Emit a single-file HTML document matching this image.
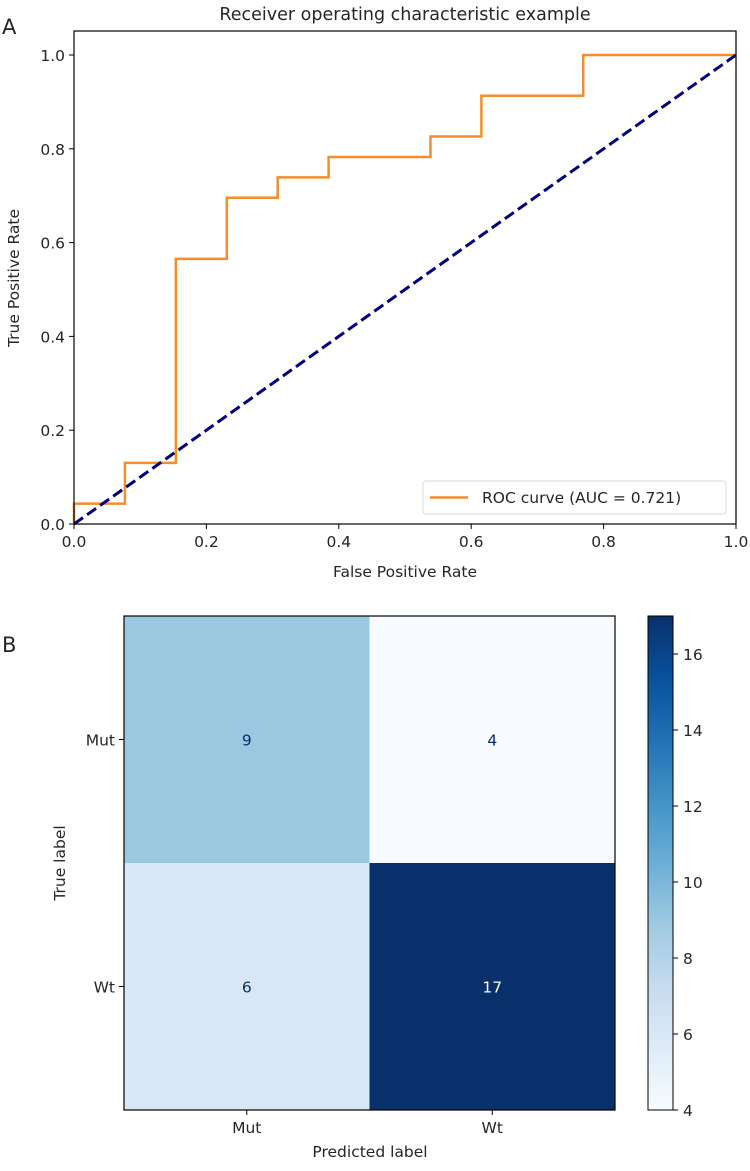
<!DOCTYPE html>
<html><head><meta charset="utf-8"><style>
body{margin:0;background:#fff}
svg text{font-family:"DejaVu Sans","Liberation Sans",sans-serif;fill:#262626}
</style></head><body>
<svg width="750" height="1166" viewBox="0 0 750 1166" xmlns="http://www.w3.org/2000/svg">
<g id="roc"></g>
<g id="cm"></g>
</svg>
<script>
// ROC data
const rocFpr = [0, 0, 0.0769, 0.0769, 0.1538, 0.1538, 0.2308, 0.2308, 0.3077, 0.3077, 0.3846, 0.3846, 0.5385, 0.5385, 0.6154, 0.6154, 0.7692, 0.7692, 1.0];
const rocTpr = [0, 0.0435, 0.0435, 0.1304, 0.1304, 0.5652, 0.5652, 0.6957, 0.6957, 0.7391, 0.7391, 0.7826, 0.7826, 0.8261, 0.8261, 0.9130, 0.9130, 1.0, 1.0];
const diagX = [0, 1];
const diagY = [0, 1];
const rocTicks = [0.0, 0.2, 0.4, 0.6, 0.8, 1.0];
const aucLabel = "ROC curve (AUC = 0.721)";
// Confusion matrix data
const classLabels = ["Mut", "Wt"];
const cmValues = [[9, 4], [6, 17]];
const cbarTicks = [4, 6, 8, 10, 12, 14, 16];

const NS = "http://www.w3.org/2000/svg";
function mk(parent, tag, attrs, text) {
  const e = document.createElementNS(NS, tag);
  for (const k in attrs) e.setAttribute(k, attrs[k]);
  if (text !== undefined) e.textContent = text;
  parent.appendChild(e);
  return e;
}
const FS = 15.5;
// ROC axes
const X0 = 74, X1 = 736, YB = 524, YT = 31;
const xs = v => X0 + v * (X1 - X0);
const ys = v => YB - v * (YB - 55) / 1.0;
const roc = document.getElementById('roc');

let t = mk(roc, 'text', {x: 405, y: 20, 'text-anchor': 'middle', 'font-size': 17.5}, "Receiver operating characteristic example");


t = mk(roc, 'text', {x: 2, y: 34, 'font-size': 21}, "A");



rocTicks.forEach(v => {
  let g = mk(roc, 'g', {});
  
  
  mk(g, 'line', {x1: xs(v), x2: xs(v), y1: YB, y2: YB + 5, stroke: '#000', 'stroke-width': 1});
  mk(g, 'text', {x: xs(v), y: YB + 23, 'text-anchor': 'middle', 'font-size': FS}, v.toFixed(1));
  let g2 = mk(roc, 'g', {});
  
  
  mk(g2, 'line', {x1: X0 - 5, x2: X0, y1: ys(v), y2: ys(v), stroke: '#000', 'stroke-width': 1});
  mk(g2, 'text', {x: X0 - 9, y: ys(v) + 6, 'text-anchor': 'end', 'font-size': FS}, v.toFixed(1));
});
t = mk(roc, 'text', {x: 405, y: 577, 'text-anchor': 'middle', 'font-size': FS}, "False Positive Rate");


t = mk(roc, 'text', {x: 0, y: 0, 'text-anchor': 'middle', 'font-size': FS, transform: 'translate(19,278) rotate(-90)'}, "True Positive Rate");



let p = mk(roc, 'polyline', {points: rocFpr.map((v, i) => xs(v) + ',' + ys(rocTpr[i])).join(' '), fill: 'none', stroke: '#f28e2b', 'stroke-width': 2.5});


p = mk(roc, 'line', {x1: xs(diagX[0]), y1: ys(diagY[0]), x2: xs(diagX[1]), y2: ys(diagY[1]), stroke: '#000080', 'stroke-width': 3, 'stroke-dasharray': '11,5'});


p = mk(roc, 'rect', {x: X0, y: YT, width: X1 - X0, height: YB - YT, fill: 'none', stroke: '#000', 'stroke-width': 1.2});



let lg = mk(roc, 'g', {});


mk(lg, 'rect', {x: 423, y: 481, width: 303, height: 33, rx: 3, fill: '#fff', 'fill-opacity': 0.85, stroke: '#d8d8d8'});
mk(lg, 'line', {x1: 430, x2: 468, y1: 497.5, y2: 497.5, stroke: '#f28e2b', 'stroke-width': 2.5});
mk(lg, 'text', {x: 482, y: 503, 'font-size': FS}, aucLabel);

// Confusion matrix
const cm = document.getElementById('cm');
const CL = 124, CT = 616, CR = 615, CB = 1110;
const n = classLabels.length;
const cw = (CR - CL) / n, ch = (CB - CT) / n;
const vmin = 4, vmax = 17;
const blues = [[247,251,255],[222,235,247],[198,219,239],[158,202,225],[107,174,214],[66,146,198],[33,113,181],[8,81,156],[8,48,107]];
function blue(v) {
  let f = Math.max(0, Math.min(1, (v - vmin) / (vmax - vmin))) * (blues.length - 1);
  let i = Math.min(Math.floor(f), blues.length - 2), r = f - i;
  const c = blues[i].map((a, k) => Math.round(a + (blues[i + 1][k] - a) * r));
  return 'rgb(' + c.join(',') + ')';
}
t = mk(cm, 'text', {x: 2, y: 652, 'font-size': 21}, "B");


cmValues.forEach((row, r) => row.forEach((v, c) => {
  let g = mk(cm, 'g', {});
  
  
  mk(g, 'rect', {x: CL + c * cw, y: CT + r * ch, width: cw, height: ch, fill: blue(v)});
  mk(g, 'text', {x: CL + (c + 0.5) * cw, y: CT + (r + 0.5) * ch + 6, 'text-anchor': 'middle', 'font-size': FS, style: 'fill:' + ((v - vmin) / (vmax - vmin) > 0.5 ? '#f7fbff' : '#08306b')}, String(v));
}));
p = mk(cm, 'rect', {x: CL, y: CT, width: CR - CL, height: CB - CT, fill: 'none', stroke: '#000', 'stroke-width': 1.2});


classLabels.forEach((lab, i) => {
  let g = mk(cm, 'g', {});
  
  
  const cx = CL + (i + 0.5) * cw;
  mk(g, 'line', {x1: cx, x2: cx, y1: CB, y2: CB + 5, stroke: '#000'});
  mk(g, 'text', {x: cx, y: CB + 23, 'text-anchor': 'middle', 'font-size': FS}, lab);
  let g2 = mk(cm, 'g', {});
  
  
  const cy = CT + (i + 0.5) * ch;
  mk(g2, 'line', {x1: CL - 5, x2: CL, y1: cy, y2: cy, stroke: '#000'});
  mk(g2, 'text', {x: CL - 9, y: cy + 6, 'text-anchor': 'end', 'font-size': FS}, lab);
});
t = mk(cm, 'text', {x: 370, y: 1157, 'text-anchor': 'middle', 'font-size': FS}, "Predicted label");


t = mk(cm, 'text', {x: 0, y: 0, 'text-anchor': 'middle', 'font-size': FS, transform: 'translate(65,863) rotate(-90)'}, "True label");



// colorbar
const BX = 648, BW = 25;
const defs = mk(cm, 'defs', {});
const grad = mk(defs, 'linearGradient', {id: 'cbg', x1: 0, y1: 1, x2: 0, y2: 0});
blues.forEach((c, i) => mk(grad, 'stop', {offset: (i / (blues.length - 1)), 'stop-color': 'rgb(' + c.join(',') + ')'}));
p = mk(cm, 'rect', {x: BX, y: CT, width: BW, height: CB - CT, fill: 'url(#cbg)', stroke: '#000', 'stroke-width': 1});


const cys = v => CB - (v - vmin) / (vmax - vmin) * (CB - CT);
cbarTicks.forEach(v => {
  let g = mk(cm, 'g', {});
  
  
  mk(g, 'line', {x1: BX + BW, x2: BX + BW + 5, y1: cys(v), y2: cys(v), stroke: '#000'});
  mk(g, 'text', {x: BX + BW + 10, y: cys(v) + 6, 'font-size': FS}, String(v));
});
</script>
</body></html>
